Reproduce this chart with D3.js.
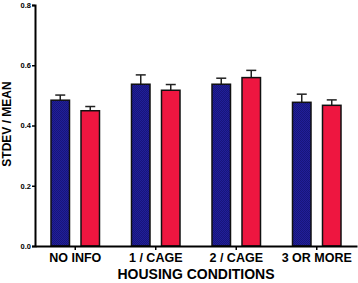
<!DOCTYPE html>
<html>
<head>
<meta charset="utf-8">
<script src="https://cdn.jsdelivr.net/npm/d3@7"></script>
<style>
  body { margin: 0; background: #fff; }
  .canvas { width: 358px; height: 283px; }
  text { font-family: "Liberation Sans", Arial, sans-serif; font-weight: bold; fill: #000; }
</style>
</head>
<body>
<div class="canvas"></div>
<script>
const categories = ["NO INFO", "1 / CAGE", "2 / CAGE", "3 OR MORE"];
const seriesA = [0.484, 0.537, 0.537, 0.477];
const errorA = [0.017, 0.031, 0.02, 0.027];
const seriesB = [0.449, 0.517, 0.559, 0.467];
const errorB = [0.014, 0.019, 0.024, 0.018];
const yTicks = [0.0, 0.2, 0.4, 0.6, 0.8];

const canvas = document.querySelector(".canvas");
const margin = { top: 5, right: 0, bottom: 37, left: 35 };
const width = canvas.offsetWidth - margin.left - margin.right;
const height = canvas.offsetHeight - margin.top - margin.bottom;

const svg = d3
  .select(".canvas")
  .append("svg")
  .attr("width", canvas.offsetWidth)
  .attr("height", canvas.offsetHeight);

// dithered navy fill like the original
const defs = svg.append("defs");
const pat = defs
  .append("pattern")
  .attr("id", "blueDither")
  .attr("width", 2)
  .attr("height", 2)
  .attr("patternUnits", "userSpaceOnUse");
pat.append("rect").attr("width", 2).attr("height", 2).attr("fill", "#2624a8");
pat.append("rect").attr("width", 1).attr("height", 1).attr("fill", "#12106c");
pat.append("rect").attr("x", 1).attr("y", 1).attr("width", 1).attr("height", 1).attr("fill", "#12106c");

const chart = svg
  .append("g")
  .attr("transform", `translate(${margin.left}, ${margin.top})`);

const x = d3.scaleBand().domain(categories).range([0, 322]).padding(0);
const y = d3.scaleLinear().domain([0, 0.8]).range([height, 0]);

const yAxis = d3.axisLeft(y).tickValues(yTicks).tickFormat(d3.format(".1f")).tickSize(3).tickPadding(1);
const xAxis = d3.axisBottom(x).tickSize(4).tickSizeOuter(0).tickPadding(3);

const rows = categories.map((c, i) => ({
  cat: c,
  bars: [
    { key: "a", v: seriesA[i], e: errorA[i], fill: "url(#blueDither)" },
    { key: "b", v: seriesB[i], e: errorB[i], fill: "#ee1640" },
  ],
}));

const barW = 20;
const offsets = { a: -25, b: 5 };

const groups = chart
  .selectAll(".grp")
  .data(rows)
  .enter()
  .append("g")
  .attr("class", "grp")
  .attr("transform", (d) => `translate(${x(d.cat) + x.bandwidth() / 2}, 0)`);

const bars = groups
  .selectAll(".bar")
  .data((d) => d.bars)
  .enter()
  .append("g");

// error bars (upper only)
bars
  .append("line")
  .attr("x1", (d) => offsets[d.key] + barW / 2)
  .attr("x2", (d) => offsets[d.key] + barW / 2)
  .attr("y1", (d) => y(d.v))
  .attr("y2", (d) => y(d.v + d.e))
  .attr("stroke", "#222")
  .attr("stroke-width", 1.5);
bars
  .append("line")
  .attr("x1", (d) => offsets[d.key] + barW / 2 - 5)
  .attr("x2", (d) => offsets[d.key] + barW / 2 + 5)
  .attr("y1", (d) => y(d.v + d.e))
  .attr("y2", (d) => y(d.v + d.e))
  .attr("stroke", "#222")
  .attr("stroke-width", 1.5);

bars
  .append("rect")
  .attr("x", (d) => offsets[d.key] + 0.75)
  .attr("y", (d) => y(d.v))
  .attr("width", barW - 1.5)
  .attr("height", (d) => height - y(d.v))
  .attr("fill", (d) => d.fill)
  .attr("stroke", "#111")
  .attr("stroke-width", 1.5);

const ya = chart.append("g").attr("id", "y-axis").call(yAxis);
ya.select(".domain").attr("stroke-width", 2);
ya.selectAll(".tick line").attr("stroke-width", 1.5);
ya.selectAll("text").style("font-size", "7.5px");

const xa = chart
  .append("g")
  .attr("id", "x-axis")
  .attr("transform", `translate(0, ${height})`)
  .call(xAxis);
xa.select(".domain").attr("stroke-width", 2);
xa.selectAll(".tick line").attr("stroke-width", 1.5);
xa.selectAll("text").style("font-size", "12.5px");

svg
  .append("text")
  .text("HOUSING CONDITIONS")
  .attr("x", 196)
  .attr("y", 279)
  .attr("text-anchor", "middle")
  .style("font-size", "14px");

svg
  .append("text")
  .text("STDEV / MEAN")
  .attr("transform", "translate(11, 124) rotate(-90)")
  .attr("text-anchor", "middle")
  .style("font-size", "12px");
</script>
</body>
</html>
